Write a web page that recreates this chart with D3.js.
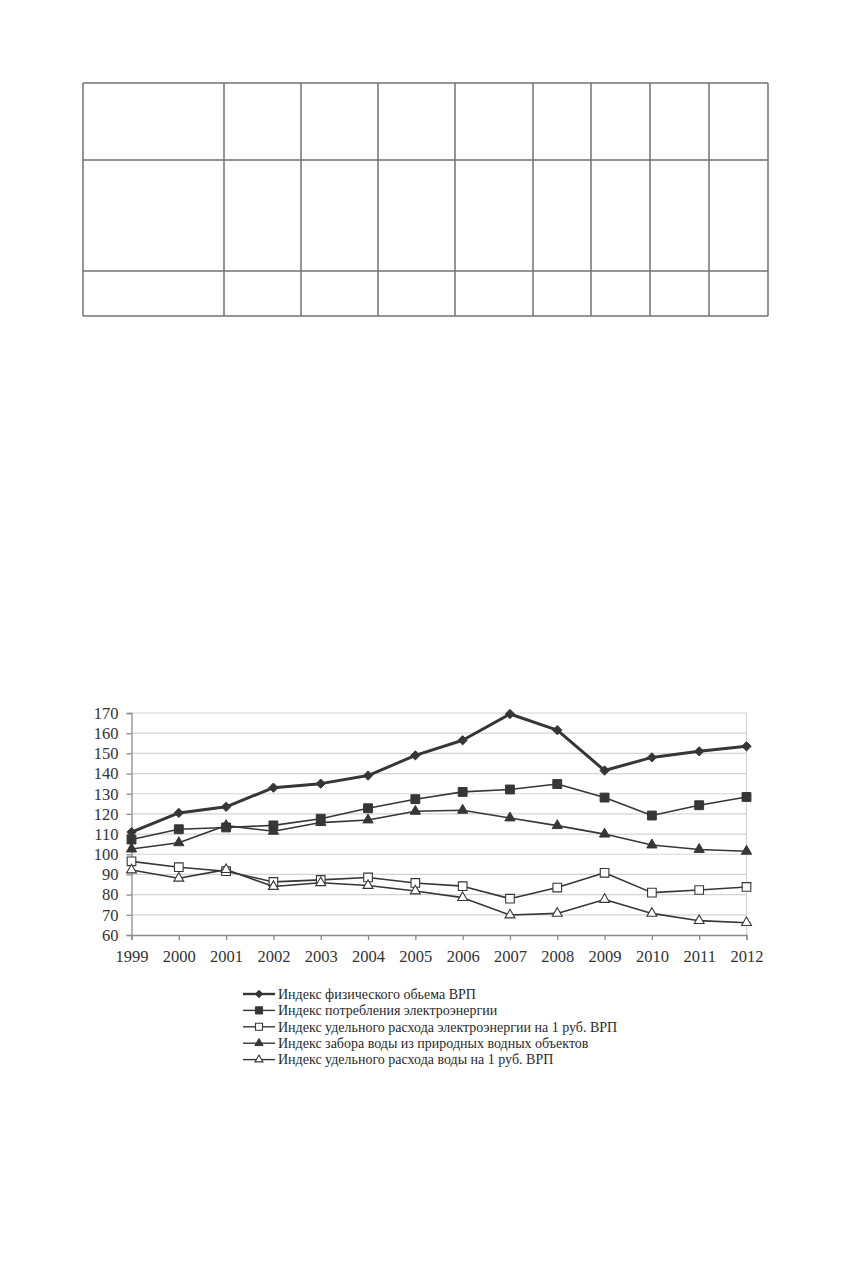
<!DOCTYPE html>
<html>
<head>
<meta charset="utf-8">
<script src="https://cdn.jsdelivr.net/npm/d3@7"></script>
<style>
  body { margin: 0; background: #fff; }
  svg { display: block; }
</style>
</head>
<body>
<div id="page"></div>
<script>
// Data
const years = ["1999","2000","2001","2002","2003","2004","2005","2006","2007","2008","2009","2010","2011","2012"];
const grpIndex     = [111, 120.5, 123.5, 133, 135, 139, 149, 156.5, 169.5, 161.5, 141.5, 148, 151, 153.5];
const powerUse     = [107.3, 112.4, 113.3, 114.3, 117.6, 122.8, 127.3, 130.9, 132.1, 134.8, 128.1, 119.2, 124.3, 128.4];
const powerPerRub  = [96.5, 93.6, 91.6, 86.3, 87.3, 88.5, 85.8, 84.2, 78, 83.5, 90.8, 81, 82.3, 83.8];
const waterIntake  = [102.6, 105.7, 114.2, 111.4, 115.7, 117, 121.3, 121.8, 118, 114.2, 110, 104.6, 102.4, 101.5];
const waterPerRub  = [92.2, 88.1, 92.4, 84, 85.9, 84.5, 81.8, 78.5, 69.9, 70.7, 77.6, 70.7, 67.1, 66.1];
const seriesNames = [
  "Индекс физического обьема ВРП",
  "Индекс потребления электроэнергии",
  "Индекс удельного расхода электроэнергии на 1 руб. ВРП",
  "Индекс забора воды из природных водных объектов",
  "Индекс удельного расхода воды на 1 руб. ВРП"
];
const yTicks = [60, 70, 80, 90, 100, 110, 120, 130, 140, 150, 160, 170];

const W = 856, H = 1268;
const svg = d3.select("#page").append("svg")
  .attr("width", W).attr("height", H);

// empty table at the top of the page
const tableCols = [83, 224, 301, 378, 455, 533, 591, 650, 709, 768];
const tableRows = [83, 160, 271, 316];
const tbl = svg.append("g").attr("stroke", "#727272").attr("stroke-width", 1.5);
tbl.selectAll("line.v").data(tableCols).join("line").attr("class", "v")
  .attr("x1", d => d).attr("x2", d => d)
  .attr("y1", tableRows[0]).attr("y2", tableRows[tableRows.length - 1]);
tbl.selectAll("line.h").data(tableRows).join("line").attr("class", "h")
  .attr("y1", d => d).attr("y2", d => d)
  .attr("x1", tableCols[0]).attr("x2", tableCols[tableCols.length - 1]);

// chart
const plot = { left: 131.5, right: 746.5, top: 713, bottom: 935 };

const x = d3.scalePoint().domain(years).range([plot.left, plot.right]);
const y = d3.scaleLinear().domain([60, 170]).range([plot.bottom, plot.top]);

const chart = svg.append("g");

// gridlines
chart.append("g")
  .selectAll("line").data(yTicks.slice(1)).join("line")
  .attr("x1", plot.left).attr("x2", plot.right)
  .attr("y1", d => y(d)).attr("y2", d => y(d))
  .attr("stroke", "#d4d4d4").attr("stroke-width", 1.2);
chart.append("line")
  .attr("x1", plot.right).attr("x2", plot.right)
  .attr("y1", plot.top).attr("y2", plot.bottom)
  .attr("stroke", "#d4d4d4").attr("stroke-width", 1.2);

// axes
const yAxis = chart.append("g")
  .attr("transform", `translate(${plot.left},0)`)
  .call(d3.axisLeft(y).tickValues(yTicks).tickSize(5).tickPadding(8));
const xAxis = chart.append("g")
  .attr("transform", `translate(0,${plot.bottom})`)
  .call(d3.axisBottom(x).tickSize(5).tickPadding(10));

[yAxis, xAxis].forEach(a => {
  a.select(".domain").attr("stroke", "#8a8a8a").attr("stroke-width", 1.3);
  a.selectAll(".tick line").attr("stroke", "#8a8a8a").attr("stroke-width", 1.3);
  a.selectAll("text")
    .attr("font-family", "'Liberation Serif', 'Times New Roman', serif")
    .attr("font-size", 16.5).attr("fill", "#333");
});

const allSeries = [grpIndex, powerUse, powerPerRub, waterIntake, waterPerRub];
const lineWidths = [3, 1.6, 1.6, 1.6, 1.6];
const markerTypes = ["diamond", "squareFilled", "squareOpen", "triangleFilled", "triangleOpen"];
const ink = "#363636";

function drawMarker(g, type, cx, cy, scale = 1) {
  const open = type.endsWith("Open");
  const fill = open ? "#fff" : ink;
  let path;
  if (type === "diamond") {
    path = d3.symbol(d3.symbolDiamond2, 55 * scale)();
  } else if (type.startsWith("square")) {
    path = d3.symbol(d3.symbolSquare2, (open ? 95 : 100) * scale)();
  } else {
    path = d3.symbol(d3.symbolTriangle2, (open ? 70 : 75) * scale)();
  }
  g.append("path")
    .attr("d", path)
    .attr("transform", `translate(${cx},${cy})`)
    .attr("fill", fill)
    .attr("stroke", ink)
    .attr("stroke-width", open ? 1.1 : 1);
}

const line = d3.line()
  .x((d, i) => x(years[i]))
  .y(d => y(d));

allSeries.forEach((vals, s) => {
  const g = chart.append("g");
  g.append("path")
    .attr("d", line(vals))
    .attr("fill", "none")
    .attr("stroke", ink)
    .attr("stroke-width", lineWidths[s])
    .attr("stroke-linejoin", "round");
  vals.forEach((v, i) => drawMarker(g, markerTypes[s], x(years[i]), y(v)));
});

// legend
const legend = svg.append("g").attr("transform", "translate(243,994)");
seriesNames.forEach((name, i) => {
  const row = legend.append("g").attr("transform", `translate(0,${i * 16.4})`);
  row.append("line")
    .attr("x1", 0).attr("x2", 32).attr("y1", 0).attr("y2", 0)
    .attr("stroke", ink).attr("stroke-width", i === 0 ? 2.4 : 1.4);
  drawMarker(row, markerTypes[i], 16, 0, 0.65);
  row.append("text")
    .attr("x", 35).attr("y", 4.8)
    .attr("font-family", "'Liberation Serif', 'Times New Roman', serif")
    .attr("font-size", 14)
    .attr("fill", "#2a2a2a")
    .text(name);
});
</script>
</body>
</html>
